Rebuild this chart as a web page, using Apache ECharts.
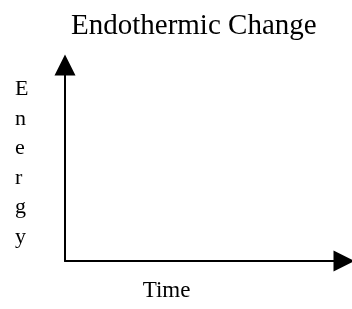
<!DOCTYPE html>
<html>
<head>
<meta charset="utf-8">
<script src="https://cdn.jsdelivr.net/npm/echarts@6/dist/echarts.min.js"></script>
<style>
  html, body { margin: 0; padding: 0; background: #fff; }
  #chart { width: 352px; height: 309px; }
</style>
</head>
<body>
<div id="chart"></div>
<script>
// empty sketch axes, no plotted values
const titleText = 'Endothermic Change'
const xName = 'Time'
const yName = 'Energy'
const xRange = [0, 1]
const yRange = [0, 1]

const font = 'Liberation Serif'
const chart = echarts.init(document.getElementById('chart'), null, { renderer: 'canvas' })

function axis (name, range, extra) {
  return Object.assign({
    type: 'value',
    min: range[0],
    max: range[1],
    name: name,
    nameLocation: 'middle',
    axisLine: {
      show: true,
      symbol: ['none', 'triangle'],
      symbolSize: [21, 21],
      lineStyle: { color: '#000', width: 2 }
    },
    axisTick: { show: false },
    axisLabel: { show: false },
    splitLine: { show: false }
  }, extra)
}

chart.setOption({
  animation: false,
  title: {
    text: titleText,
    left: 71,
    top: 12,
    padding: 0,
    textStyle: { fontFamily: font, fontSize: 29, fontWeight: 'normal', color: '#000' }
  },
  grid: { left: 65, right: 8, top: 65, bottom: 48 },
  xAxis: axis(xName, xRange, {
    nameGap: 18,
    nameTextStyle: { fontFamily: font, fontSize: 23, color: '#000', padding: [0, 76, 0, 0] }
  }),
  yAxis: axis(yName.split('').join('\n'), yRange, {
    nameRotate: 0,
    nameGap: 50,
    nameTextStyle: { fontFamily: font, fontSize: 22, lineHeight: 29.5, color: '#000', align: 'left', padding: [0, 0, 4, 0] }
  }),
  series: []
})
</script>
</body>
</html>
